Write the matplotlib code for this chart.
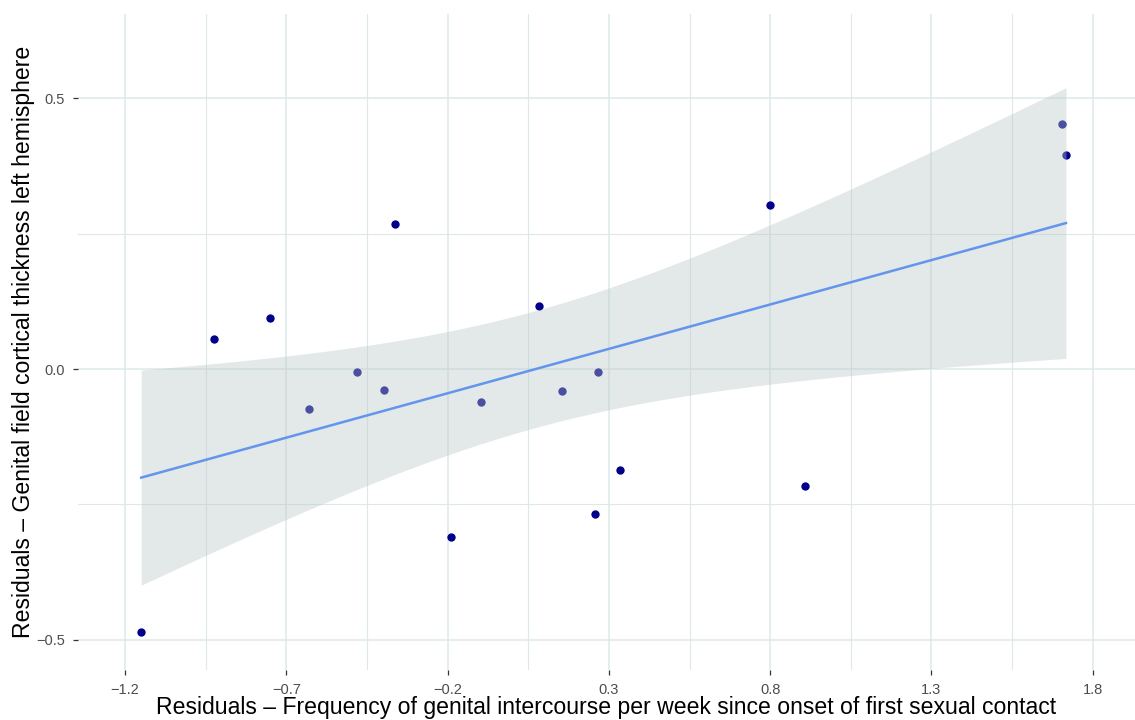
import numpy as np
import matplotlib
matplotlib.use("Agg")
import matplotlib.pyplot as plt
from matplotlib.ticker import FixedLocator

plt.rcParams['font.family'] = ['Liberation Sans', 'DejaVu Sans']

# Data (residuals)
x_res = [-1.150, -0.924, -0.750, -0.630, -0.481, -0.397, -0.363, -0.189, -0.096,
         0.083, 0.155, 0.266, 0.257, 0.334, 0.800, 0.908, 1.705, 1.717]
y_res = [-0.486, 0.055, 0.094, -0.074, -0.006, -0.039, 0.268, -0.311, -0.061,
         0.116, -0.041, -0.006, -0.268, -0.187, 0.303, -0.216, 0.453, 0.396]

x_ticks = [-1.2, -0.7, -0.2, 0.3, 0.8, 1.3, 1.8]
y_ticks = [-0.5, 0.0, 0.5]
x_label = "Residuals \u2013 Frequency of genital intercourse per week since onset of first sexual contact"
y_label = "Residuals \u2013 Genital field cortical thickness left hemisphere"

x = np.array(x_res)
y = np.array(y_res)
n = len(x)
slope, intercept = np.polyfit(x, y, 1)
resid = y - (slope * x + intercept)
s = np.sqrt(np.sum(resid ** 2) / (n - 2))
xbar = x.mean()
sxx = np.sum((x - xbar) ** 2)
t_crit = 2.1199  # t(0.975, df=16)
xs = np.linspace(x.min(), x.max(), 200)
ys = slope * xs + intercept
se = s * np.sqrt(1.0 / n + (xs - xbar) ** 2 / sxx)
lo = ys - t_crit * se
hi = ys + t_crit * se

fig = plt.figure(figsize=(11.35, 7.2), dpi=100)
ax = fig.add_axes([78 / 1135, 50 / 720, 1 - 78 / 1135, (670 - 14) / 720])

grid_c = '#dde9e9'
ax.scatter(x, y, s=36, color='#00008b', zorder=3, linewidths=0)
ax.fill_between(xs, lo, hi, color='#bac6c6', alpha=0.4, linewidth=0, zorder=4)
ax.plot(xs, ys, color='#6495ed', lw=1.8, zorder=5)

ax.set_xlim(-1.346, 1.931)
ax.set_ylim(-0.556, 0.656)
ax.xaxis.set_major_locator(FixedLocator(x_ticks))
ax.yaxis.set_major_locator(FixedLocator(y_ticks))
ax.xaxis.set_minor_locator(FixedLocator([t + 0.25 for t in [-1.7] + x_ticks]))
ax.yaxis.set_minor_locator(FixedLocator([-0.25, 0.25]))
ax.set_xticklabels([f"{t:.1f}".replace('-', '\u2212') for t in x_ticks])
ax.set_yticklabels([f"{t:.1f}".replace('-', '\u2212') for t in y_ticks])

ax.grid(which='major', color=grid_c, lw=1.1, zorder=0)
ax.grid(which='minor', color=grid_c, lw=0.8, zorder=0)
ax.set_axisbelow(True)
for sp in ax.spines.values():
    sp.set_visible(False)
ax.tick_params(which='major', length=3.5, width=0.9, color='#333333', pad=6,
               labelsize=10.5, labelcolor='#4d4d4d')
ax.tick_params(which='minor', length=0)

ax.set_xlabel(x_label, fontsize=16.6, color='black', labelpad=-1)
ax.set_ylabel(y_label, fontsize=16.6, color='black', labelpad=1)

fig.savefig('out.png', dpi=100)
